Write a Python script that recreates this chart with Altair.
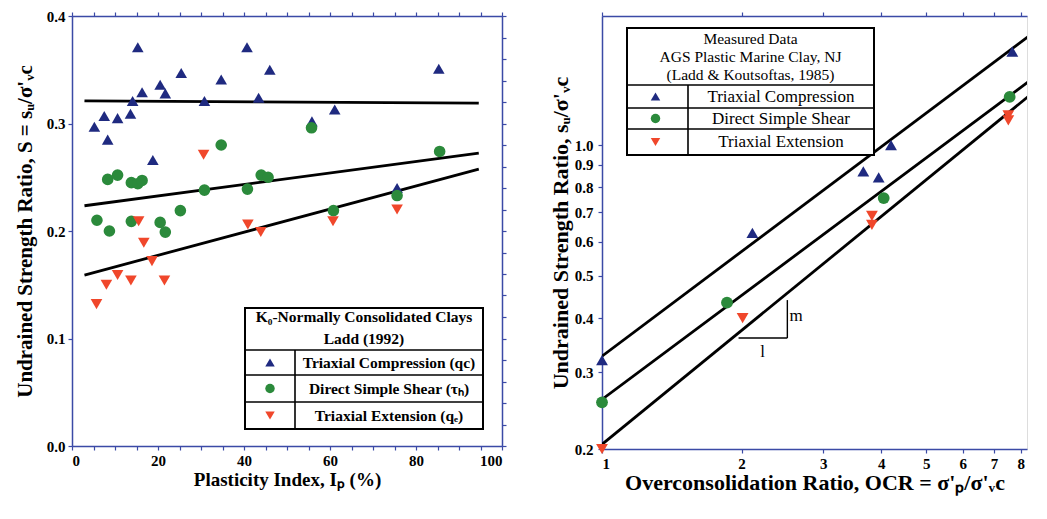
import altair as alt
import pandas as pd

FONT = "Liberation Serif"
AXIS_BLUE = "#3b4aa6"
TESTS = ["TC", "DSS", "TE"]
COLORS = ["#1f2a80", "#2b8a3b", "#f0472b"]
SHAPES = ["triangle-up", "circle", "triangle-down"]

# ---------------- Left panel: S vs plasticity index ----------------
tc_ip = [5.2, 7.5, 8.3, 10.6, 13.6, 14.1, 15.3, 16.3, 18.8, 20.5, 21.7, 25.4, 30.8,
         34.7, 40.7, 43.4, 46.0, 55.8, 61.1, 75.6, 85.3]
tc_s = [0.297, 0.307, 0.285, 0.305, 0.309, 0.321, 0.371, 0.329, 0.266, 0.336, 0.328,
        0.347, 0.321, 0.341, 0.371, 0.324, 0.350, 0.302, 0.313, 0.240, 0.351]
dss_ip = [5.8, 8.3, 8.7, 10.6, 13.8, 13.8, 15.3, 16.3, 20.5, 21.7, 25.2, 30.8, 34.7,
          40.8, 44.0, 45.6, 55.7, 60.8, 75.6, 85.5]
dss_s = [0.210, 0.248, 0.200, 0.252, 0.245, 0.209, 0.244, 0.247, 0.208, 0.199, 0.219,
         0.238, 0.280, 0.239, 0.252, 0.250, 0.296, 0.219, 0.233, 0.274]
te_ip = [5.7, 8.0, 10.6, 13.7, 15.5, 16.7, 18.6, 21.5, 30.6, 40.9, 43.9, 60.7, 75.6]
te_s = [0.132, 0.150, 0.159, 0.154, 0.209, 0.189, 0.172, 0.154, 0.271, 0.206, 0.199,
        0.209, 0.220]

fit_ip = [2.9, 94.6]
tc_fit_s = [0.321, 0.319]
dss_fit_s = [0.2235, 0.2725]
te_fit_s = [0.159, 0.2576]

left_x_ticks = list(range(0, 101, 5))
left_y_ticks = [0.0, 0.1, 0.2, 0.3, 0.4]
left_y_minor = [round(0.02 * i, 2) for i in range(21)]

left_legend_head = ["K₀-Normally Consolidated Clays", "Ladd (1992)"]
left_legend_items = ["Triaxial Compression (qc)", "Direct Simple Shear (τₕ)",
                     "Triaxial Extension (qₑ)"]

# ---------------- Right panel: su/σ'vc vs OCR ----------------
tc_ocr = [1.0, 2.11, 3.66, 3.95, 4.2, 7.67]
tc_r = [0.32, 0.628, 0.87, 0.843, 1.0, 1.64]
dss_ocr = [1.0, 1.86, 4.05, 7.57]
dss_r = [0.256, 0.434, 0.755, 1.29]
te_ocr = [1.0, 2.01, 3.82, 3.82, 7.52, 7.52]
te_r = [0.2, 0.4, 0.687, 0.655, 1.17, 1.14]

fit_ocr = [1.0, 10.0]
tc_fit_r = [0.327, 2.06]
dss_fit_r = [0.26, 1.62]
te_fit_r = [0.205, 1.52]

slope_ocr = [1.97, 2.51]
slope_r = [0.36, 0.44]
m_label = {"ocr": 2.62, "r": 0.404, "text": "m"}
one_label = {"ocr": 2.22, "r": 0.335, "text": "l"}

right_x_ticks = [1, 2, 3, 4, 5, 6, 7, 8]
right_y_ticks = [0.2, 0.3, 0.4, 0.5, 0.6, 0.7, 0.8, 0.9, 1.0]

right_legend_head = ["Measured Data", "AGS Plastic Marine Clay, NJ",
                     "(Ladd & Koutsoftas, 1985)"]
right_legend_items = ["Triaxial Compression", "Direct Simple Shear",
                      "Triaxial Extension"]

# ---------------- tables ----------------
left_pts = pd.DataFrame({
    "ip": tc_ip + dss_ip + te_ip,
    "s": tc_s + dss_s + te_s,
    "test": ["TC"] * len(tc_ip) + ["DSS"] * len(dss_ip) + ["TE"] * len(te_ip),
})
left_fit = pd.DataFrame({
    "ip": fit_ip * 3,
    "s": tc_fit_s + dss_fit_s + te_fit_s,
    "test": ["TC"] * 2 + ["DSS"] * 2 + ["TE"] * 2,
})
right_pts = pd.DataFrame({
    "ocr": tc_ocr + dss_ocr + te_ocr,
    "r": tc_r + dss_r + te_r,
    "test": ["TC"] * len(tc_ocr) + ["DSS"] * len(dss_ocr) + ["TE"] * len(te_ocr),
})
right_fit = pd.DataFrame({
    "ocr": fit_ocr * 3,
    "r": tc_fit_r + dss_fit_r + te_fit_r,
    "test": ["TC"] * 2 + ["DSS"] * 2 + ["TE"] * 2,
})
slope_h = pd.DataFrame({"x1": [slope_ocr[0]], "x2": [slope_ocr[1]], "y": [slope_r[0]]})
slope_v = pd.DataFrame({"x": [slope_ocr[1]], "y1": [slope_r[0]], "y2": [slope_r[1]]})
ann = pd.DataFrame([m_label, one_label])

one = pd.DataFrame({"k": [0]})

color_scale = alt.Scale(domain=TESTS, range=COLORS)
shape_scale = alt.Scale(domain=TESTS, range=SHAPES)

sL_x = alt.Scale(domain=[0, 100], nice=False, zero=False)
sL_y = alt.Scale(domain=[0, 0.4], nice=False, zero=False)
sR_x = alt.Scale(type="log", domain=[1, 8.25], nice=False)
sR_y = alt.Scale(type="log", domain=[0.2, 1.98], nice=False)


def box(x1, x2, y1, y2):
    return alt.Chart(one).mark_rect(fill="white", stroke="black", strokeWidth=2).encode(
        x=alt.value(x1), x2=alt.value(x2), y=alt.value(y1), y2=alt.value(y2))


def hline(x1, x2, y, w=1.6):
    return alt.Chart(one).mark_rule(color="black", strokeWidth=w).encode(
        x=alt.value(x1), x2=alt.value(x2), y=alt.value(y))


def vline(x, y1, y2, w=1.6):
    return alt.Chart(one).mark_rule(color="black", strokeWidth=w).encode(
        x=alt.value(x), y=alt.value(y1), y2=alt.value(y2))


def label(x, y, text, size=14, weight="normal"):
    return alt.Chart(one).mark_text(text=text, font=FONT, fontSize=size, fontWeight=weight,
                                    align="center", baseline="middle", color="black").encode(
        x=alt.value(x), y=alt.value(y))


def marker(x, y, i):
    return alt.Chart(one).mark_point(shape=SHAPES[i], filled=True, color=COLORS[i],
                                     size=90, opacity=1).encode(x=alt.value(x), y=alt.value(y))


AX = dict(domainColor=AXIS_BLUE, tickColor=AXIS_BLUE, domainWidth=1.5, tickWidth=1.2,
          tickSize=4, labelFont=FONT, labelFontWeight="bold", labelFontSize=15,
          labelColor="black", titleFont=FONT, titleFontWeight="bold", titleColor="black",
          grid=False)

# ---------- left panel ----------
L_main_axes = alt.Chart(left_pts).mark_point(opacity=0).encode(
    x=alt.X("ip:Q", scale=sL_x, axis=alt.Axis(
        orient="bottom", values=left_x_ticks,
        labelExpr="datum.value % 20 == 0 ? datum.label : ''",
        title="Plasticity Index, Iₚ (%)", titleFontSize=19, titlePadding=2,
        labelPadding=3, **AX)),
    y=alt.Y("s:Q", scale=sL_y, axis=alt.Axis(
        orient="left", values=left_y_ticks, format=".1f",
        title="Undrained Strength Ratio, S = sᵤ/σ'ᵥc", titleFontSize=21,
        titlePadding=11, labelPadding=3, **AX)),
)
L_sec_axes = alt.Chart(left_pts).mark_point(opacity=0).encode(
    x=alt.X("ip:Q", scale=sL_x, axis=alt.Axis(
        orient="top", values=left_x_ticks, labels=False, title=None, **AX)),
    y=alt.Y("s:Q", scale=sL_y, axis=alt.Axis(
        orient="right", values=left_y_minor, labels=False, title=None, **AX)),
)
L_lines = alt.Chart(left_fit).mark_line(color="black", strokeWidth=2.8).encode(
    x=alt.X("ip:Q", scale=sL_x, axis=None),
    y=alt.Y("s:Q", scale=sL_y, axis=None),
    detail="test:N",
)
L_points = alt.Chart(left_pts).mark_point(filled=True, size=135, opacity=1).encode(
    x=alt.X("ip:Q", scale=sL_x, axis=None),
    y=alt.Y("s:Q", scale=sL_y, axis=None),
    color=alt.Color("test:N", scale=color_scale, legend=None),
    shape=alt.Shape("test:N", scale=shape_scale, legend=None),
)

# left legend table (pixel layout inside left plot)
Lx1, Lx2, Ly1, Ly2 = 173, 411, 292, 413
Lcol = 223
Lrows = [334, 359, 386]
L_legend = [box(Lx1, Lx2, Ly1, Ly2)]
for yy in Lrows:
    L_legend.append(hline(Lx1, Lx2, yy))
L_legend.append(vline(Lcol, Lrows[0], Ly2))
L_legend.append(label((Lx1 + Lx2) / 2, 301, left_legend_head[0], 15.5, "bold"))
L_legend.append(label((Lx1 + Lx2) / 2, 323, left_legend_head[1], 15.5, "bold"))
row_centers = [(Lrows[0] + Lrows[1]) / 2, (Lrows[1] + Lrows[2]) / 2, (Lrows[2] + Ly2) / 2]
for i in range(3):
    L_legend.append(marker((Lx1 + Lcol) / 2, row_centers[i], i))
    L_legend.append(label((Lcol + Lx2) / 2, row_centers[i], left_legend_items[i], 15.5, "bold"))

left = alt.layer(L_main_axes, L_sec_axes, L_lines, L_points, *L_legend).resolve_axis(
    x="independent", y="independent").properties(width=430, height=430)

# ---------- right panel ----------
R_main_axes = alt.Chart(right_pts).mark_point(opacity=0).encode(
    x=alt.X("ocr:Q", scale=sR_x, axis=alt.Axis(
        orient="bottom", values=right_x_ticks, format="d",
        title="Overconsolidation Ratio, OCR = σ'ₚ/σ'ᵥc", titleFontSize=22, titlePadding=1,
        labelPadding=3, **AX)),
    y=alt.Y("r:Q", scale=sR_y, axis=alt.Axis(
        orient="left", values=right_y_ticks, format=".1f",
        title="Undrained Strength Ratio, sᵤ/σ'ᵥc", titleFontSize=22,
        titlePadding=2, labelPadding=5, **AX)),
)
R_sec_axes = alt.Chart(right_pts).mark_point(opacity=0).encode(
    x=alt.X("ocr:Q", scale=sR_x, axis=alt.Axis(
        orient="top", values=right_x_ticks, labels=False, title=None, **AX)),
)
R_lines = alt.Chart(right_fit).mark_line(color="black", strokeWidth=2.8, clip=True).encode(
    x=alt.X("ocr:Q", scale=sR_x, axis=None),
    y=alt.Y("r:Q", scale=sR_y, axis=None),
    detail="test:N",
)
R_points = alt.Chart(right_pts).mark_point(filled=True, size=140, opacity=1).encode(
    x=alt.X("ocr:Q", scale=sR_x, axis=None),
    y=alt.Y("r:Q", scale=sR_y, axis=None),
    color=alt.Color("test:N", scale=color_scale, legend=None),
    shape=alt.Shape("test:N", scale=shape_scale, legend=None),
)
R_slope_h = alt.Chart(slope_h).mark_rule(color="black", strokeWidth=1.4).encode(
    x=alt.X("x1:Q", scale=sR_x, axis=None), x2="x2:Q",
    y=alt.Y("y:Q", scale=sR_y, axis=None))
R_slope_v = alt.Chart(slope_v).mark_rule(color="black", strokeWidth=1.4).encode(
    x=alt.X("x:Q", scale=sR_x, axis=None),
    y=alt.Y("y1:Q", scale=sR_y, axis=None), y2="y2:Q")
R_ann = alt.Chart(ann).mark_text(font=FONT, fontSize=17, color="black").encode(
    x=alt.X("ocr:Q", scale=sR_x, axis=None),
    y=alt.Y("r:Q", scale=sR_y, axis=None),
    text="text:N")

Rx1, Rx2, Ry1, Ry2 = 25, 272, 12, 139
Rcol = 86
Rrows = [69, 92, 113]
R_legend = [box(Rx1, Rx2, Ry1, Ry2)]
for yy in Rrows:
    R_legend.append(hline(Rx1, Rx2, yy))
R_legend.append(vline(Rcol, Rrows[0], Ry2))
for j, yy in enumerate([23, 41, 59]):
    R_legend.append(label((Rx1 + Rx2) / 2, yy, right_legend_head[j], 15.5))
rc = [(Rrows[0] + Rrows[1]) / 2, (Rrows[1] + Rrows[2]) / 2, (Rrows[2] + Ry2) / 2]
for i in range(3):
    R_legend.append(marker((Rx1 + Rcol) / 2 - 2, rc[i], i))
    R_legend.append(label((Rcol + Rx2) / 2, rc[i], right_legend_items[i], 17))

right = alt.layer(R_main_axes, R_sec_axes, R_lines, R_slope_h, R_slope_v, R_ann,
                  R_points, *R_legend).resolve_axis(
    x="independent", y="independent").properties(width=425, height=433)

chart = alt.hconcat(left, right, spacing=100, bounds="flush").properties(
    padding={"left": 5, "right": 5, "top": 0, "bottom": 5}
).configure_view(stroke=None).configure(background="white")

chart.save("out.html", embed_options={"renderer": "svg", "actions": False})
